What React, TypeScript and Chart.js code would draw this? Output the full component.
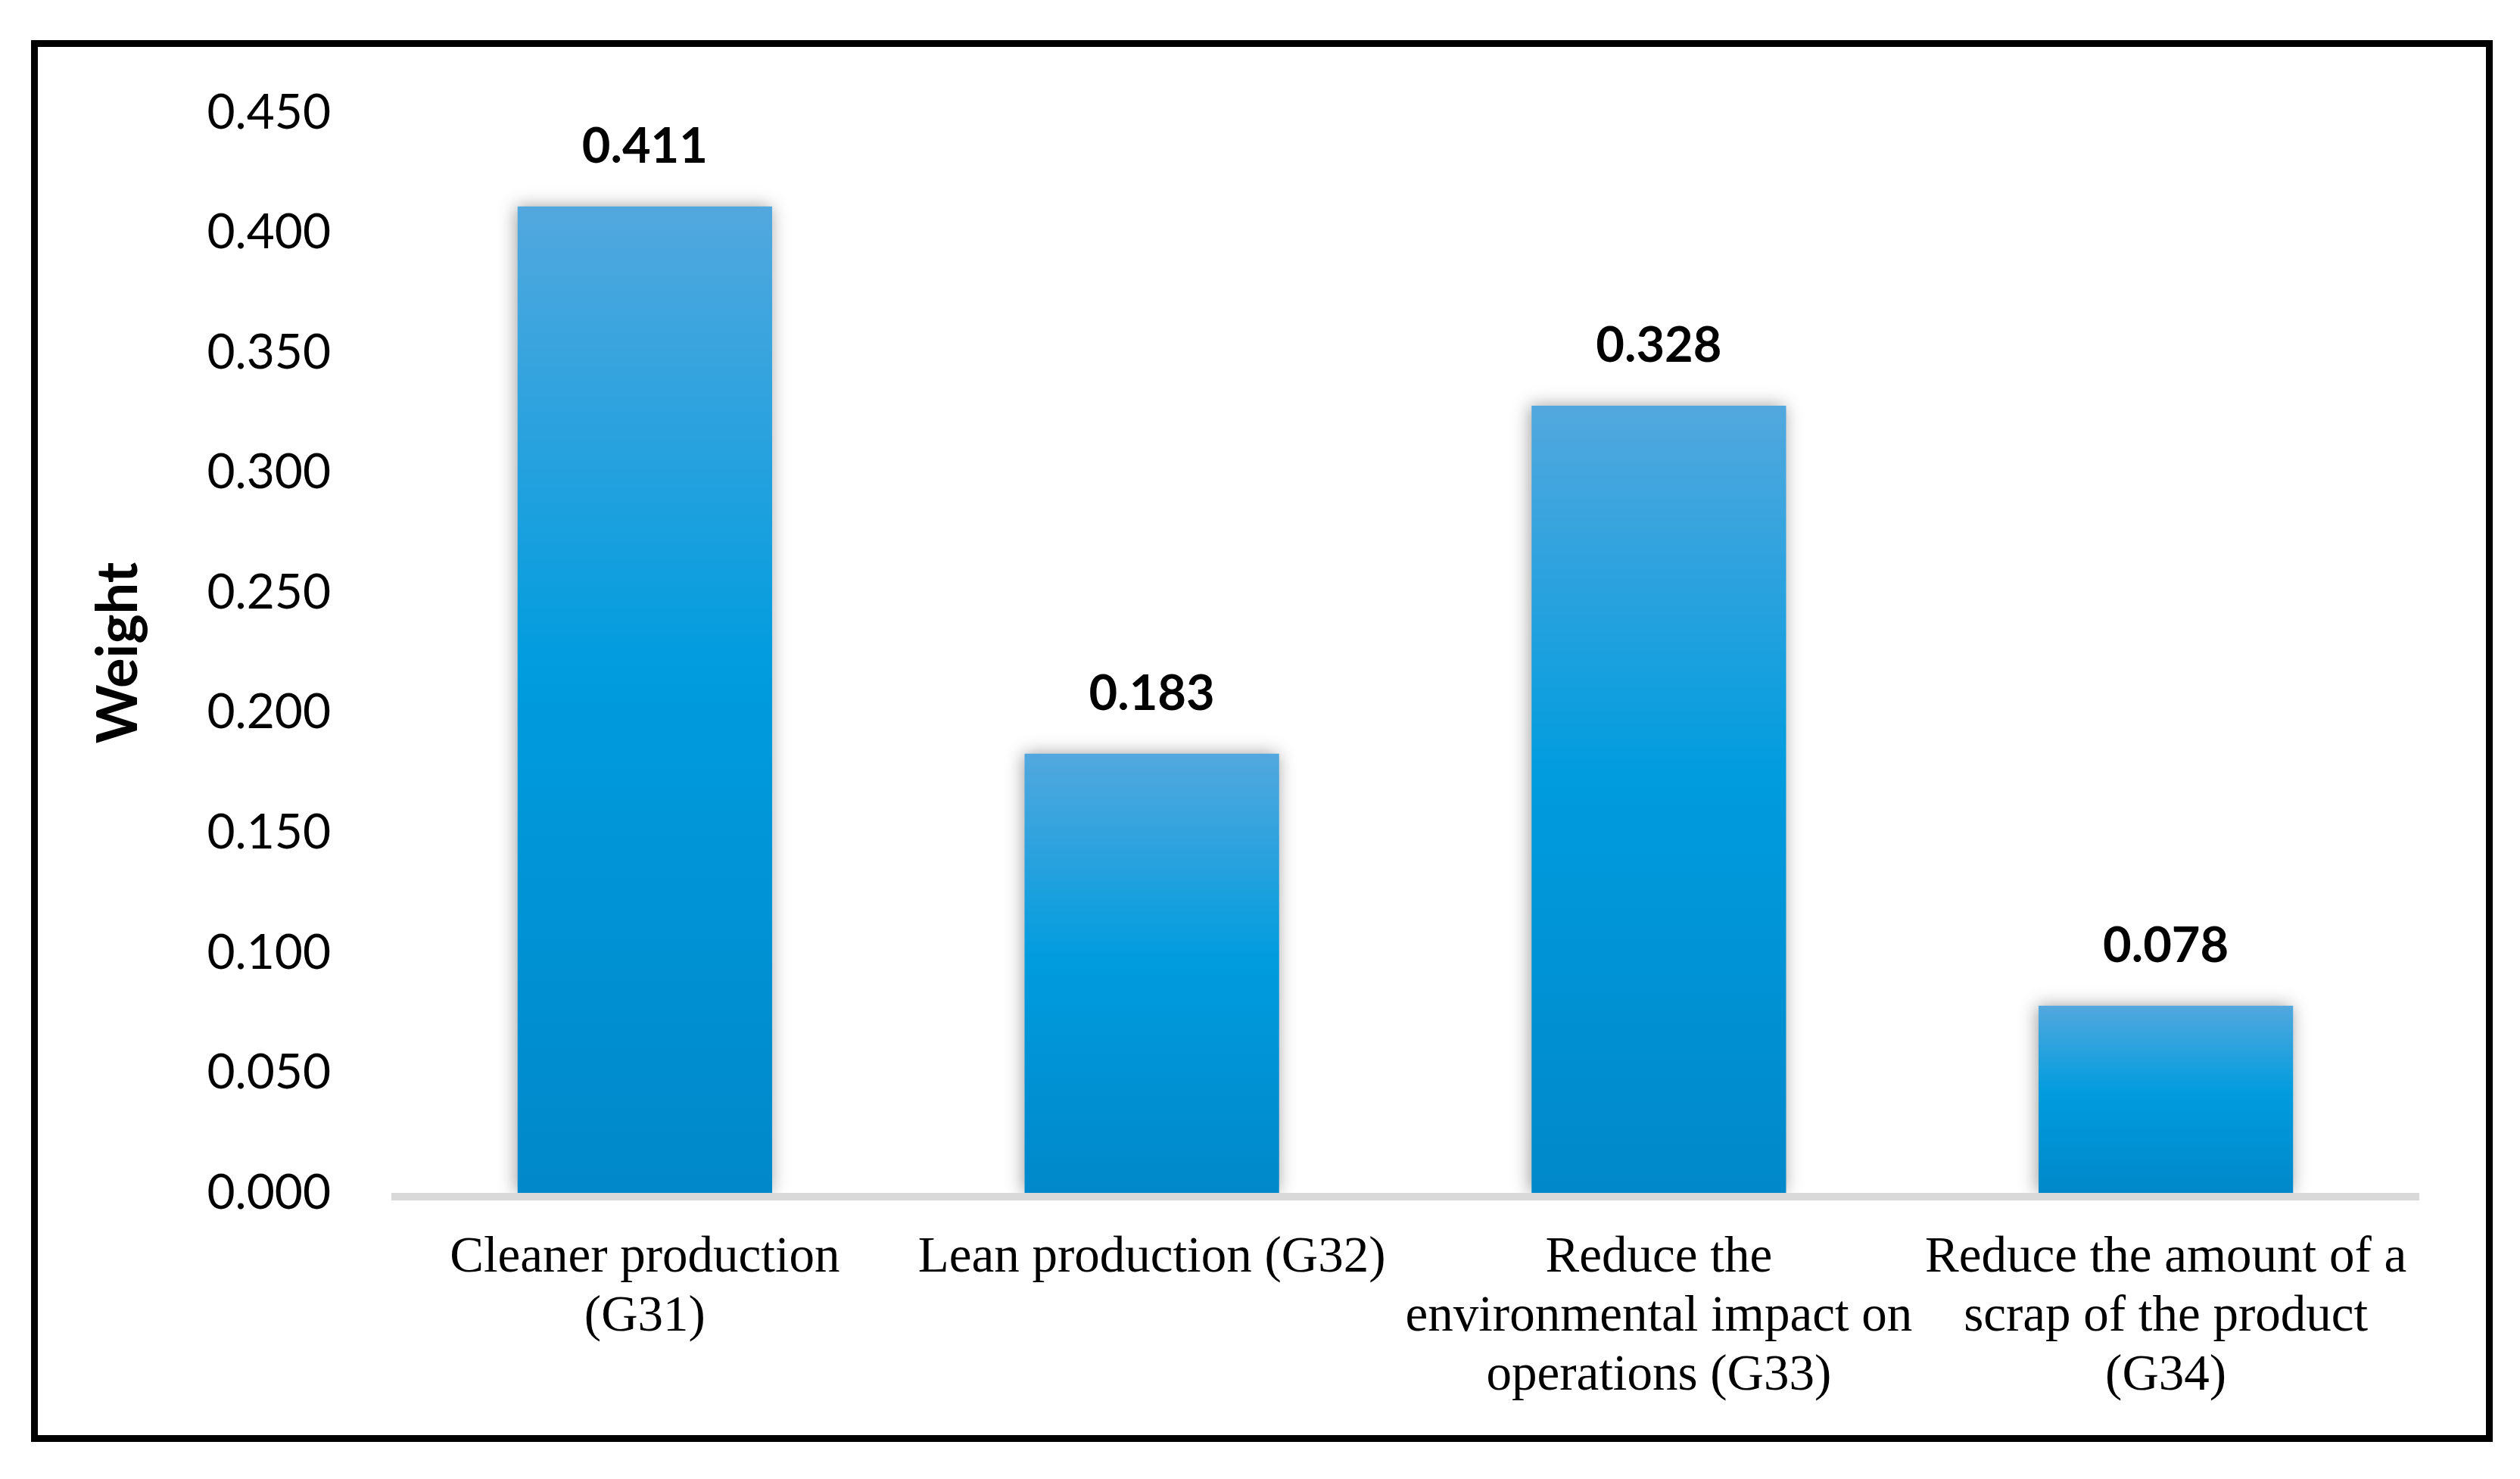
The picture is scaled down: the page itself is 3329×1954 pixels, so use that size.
import React, { useEffect, useRef } from "react";
import { Chart, registerables } from "chart.js";

Chart.register(...registerables);

// data
const categories: string[][] = [
  ["Cleaner production", "(G31)"],
  ["Lean production (G32)"],
  ["Reduce the", "environmental impact on", "operations (G33)"],
  ["Reduce the amount of a", "scrap of the product", "(G34)"],
];
const weights: number[] = [0.411, 0.183, 0.328, 0.078];
const yTicks = { min: 0, max: 0.45, step: 0.05 };
const yTitle = "Weight";

const W = 3329;
const H = 1954;

// soft shadow round the bars
const barShadow = {
  id: "barShadow",
  beforeDatasetDraw(chart: any) {
    const ctx = chart.ctx;
    ctx.save();
    ctx.shadowColor = "rgba(0,0,0,0.38)";
    ctx.shadowBlur = 22;
    ctx.shadowOffsetX = -2;
    ctx.shadowOffsetY = 0;
  },
  afterDatasetDraw(chart: any) {
    chart.ctx.restore();
  },
};

// thick grey base line and the value labels
const extras = {
  id: "extras",
  afterDatasetsDraw(chart: any) {
    const { ctx, chartArea } = chart;
    ctx.save();
    ctx.fillStyle = "#D9D9D9";
    ctx.fillRect(chartArea.left, chartArea.bottom, chartArea.right - chartArea.left, 10);

    ctx.fillStyle = "#000";
    ctx.font = "bold 65px Lato";
    ctx.textAlign = "center";
    ctx.textBaseline = "middle";
    const meta = chart.getDatasetMeta(0);
    meta.data.forEach((bar: any, i: number) => {
      ctx.fillText(weights[i].toFixed(3), bar.x, bar.y - 79);
    });
    ctx.restore();
  },
};

const App = () => {
  const canvasRef = useRef<HTMLCanvasElement>(null);

  useEffect(() => {
    let myChart: Chart<"bar"> | null = null;
    if (canvasRef.current) {
      const ctx = canvasRef.current.getContext("2d");
      if (ctx) {
        myChart = new Chart(ctx, {
          type: "bar",
          data: {
            labels: categories,
            datasets: [
              {
                label: yTitle,
                data: weights,
                backgroundColor: (c: any) => {
                  const chart = c.chart;
                  const y = chart.scales?.y;
                  if (!y || !chart.chartArea || c.type !== "data") return "#009CDE";
                  const top = y.getPixelForValue(c.raw);
                  const base = y.getPixelForValue(0);
                  const g = chart.ctx.createLinearGradient(0, top, 0, base);
                  g.addColorStop(0, "#52A8DE");
                  g.addColorStop(0.47, "#009CDE");
                  g.addColorStop(1, "#0088CA");
                  return g;
                },
                borderWidth: 0,
                categoryPercentage: 1,
                barPercentage: 0.502,
              },
            ],
          },
          options: {
            responsive: false,
            animation: false,
            devicePixelRatio: 1,
            layout: {
              padding: { left: 0, top: 149, right: 133, bottom: 0 },
            },
            plugins: {
              legend: { display: false },
              tooltip: { enabled: false },
            },
            scales: {
              x: {
                grid: { display: false },
                border: { display: false },
                ticks: {
                  color: "#000",
                  autoSkip: false,
                  maxRotation: 0,
                  minRotation: 0,
                  padding: 40,
                  font: { family: "'Liberation Serif'", size: 67, lineHeight: 1.16 },
                },
                afterFit: (scale: any) => {
                  scale.height = H - 1576;
                },
              },
              y: {
                min: yTicks.min,
                max: yTicks.max,
                grid: { display: false },
                border: { display: false },
                ticks: {
                  stepSize: yTicks.step,
                  color: "#000",
                  padding: 72,
                  font: { family: "Lato", size: 64 },
                  callback: (v: any) => Number(v).toFixed(3),
                },
                title: {
                  display: true,
                  text: yTitle,
                  color: "#000",
                  padding: { top: 113, bottom: 0 },
                  font: { family: "Lato", size: 74, weight: "bold", lineHeight: 1.2 },
                },
                afterFit: (scale: any) => {
                  scale.width = 517;
                },
              },
            },
          },
          plugins: [barShadow, extras],
        });
      }
    }
    return () => {
      if (myChart) {
        myChart.destroy();
      }
    };
  }, []);

  return (
    <div
      style={{
        position: "absolute",
        left: 0,
        top: 0,
        width: W,
        height: H,
        background: "#fff",
      }}
    >
      {/* frame round the chart */}
      <div
        style={{
          position: "absolute",
          left: 41,
          top: 53,
          width: 3252,
          height: 1852,
          border: "9px solid #000",
          boxSizing: "border-box",
        }}
      />
      <canvas
        ref={canvasRef}
        width={W}
        height={H}
        style={{ position: "absolute", left: 0, top: 0, width: W, height: H }}
      ></canvas>
    </div>
  );
};

export default App;
